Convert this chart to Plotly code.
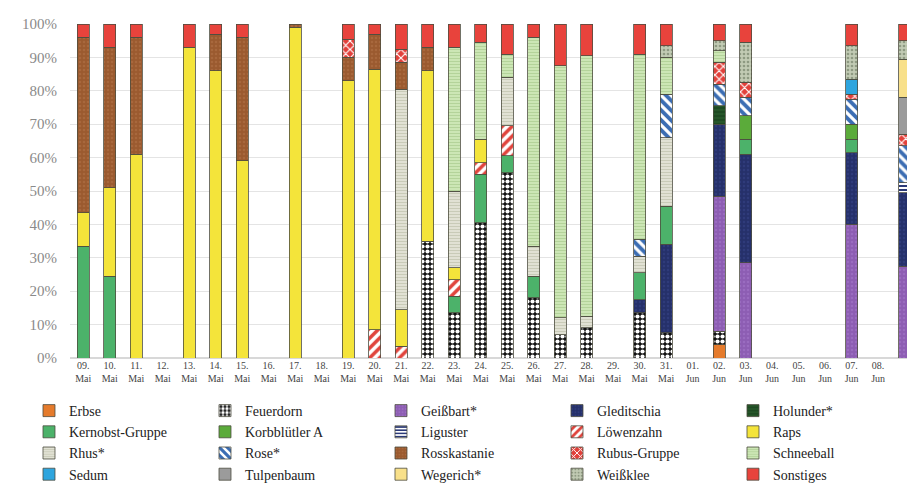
import plotly.graph_objects as go

# Sampling days (09. Mai – 09. Jun)
days = ["09.", "10.", "11.", "12.", "13.", "14.", "15.", "16.", "17.", "18.", "19.",
        "20.", "21.", "22.", "23.", "24.", "25.", "26.", "27.", "28.", "29.", "30.", "31.",
        "01.", "02.", "03.", "04.", "05.", "06.", "07.", "08.", "09."]
months = ["Mai"] * 23 + ["Jun"] * 9

# Pollen share per taxon in percent, keyed by day index
erbse = {24: 4}
feuerdorn = {13: 35, 14: 13.5, 15: 40.5, 16: 55.5, 17: 18, 18: 7, 19: 9, 21: 13.5, 22: 7.5, 24: 4}
geissbart = {24: 40.5, 25: 28.5, 29: 40, 31: 27.5}
gleditschia = {21: 4, 22: 26.5, 24: 21.5, 25: 32.5, 29: 21.5, 31: 22}
holunder = {24: 5.5}
kernobst = {0: 33.5, 1: 24.5, 14: 5, 15: 14.5, 16: 5, 17: 6.5, 21: 8, 22: 11.5, 25: 4.5, 29: 4}
korbbluetler = {25: 7, 29: 4.5}
liguster = {31: 3}
loewenzahn = {11: 8.5, 12: 3.5, 14: 5, 15: 3.5, 16: 9}
raps = {0: 10, 1: 26.5, 2: 61, 4: 93, 5: 86, 6: 59, 8: 99, 10: 83, 11: 78, 12: 11, 13: 51,
        14: 3.5, 15: 7}
rhus = {12: 66, 14: 23, 16: 14.5, 17: 9, 18: 5, 19: 3.5, 21: 5, 22: 20.5}
rose = {21: 5, 22: 13, 24: 6.5, 25: 5.5, 29: 7.5, 31: 11}
rosskastanie = {0: 52.5, 1: 42, 2: 35, 5: 11, 6: 37, 8: 1, 10: 7, 11: 10.5, 12: 8, 13: 7}
rubus = {10: 5.5, 12: 4, 24: 6.5, 25: 4.5, 29: 1.5, 31: 3.5}
schneeball = {14: 43, 15: 29, 16: 7, 17: 62.5, 18: 75.5, 19: 78, 21: 55.5, 22: 11, 24: 3.5}
sedum = {29: 4.5}
tulpenbaum = {31: 11}
wegerich = {31: 11.5}
weissklee = {22: 3.5, 24: 3, 25: 12, 29: 10, 31: 5.5}
sonstiges = {0: 4, 1: 7, 2: 4, 4: 7, 5: 3, 6: 4, 10: 4.5, 11: 3, 12: 7.5, 13: 7, 14: 7, 15: 5.5,
             16: 9, 17: 4, 18: 12.5, 19: 9.5, 21: 9, 22: 6.5, 24: 5, 25: 5.5, 29: 6.5, 31: 5}

# (name, values, background colour, pattern shape, pattern colour, pattern size, solidity)
series = [
    ("Erbse", erbse, "#e57b2c", "", None, 8, 0.3),
    ("Feuerdorn", feuerdorn, "#111111", ".", "#ffffff", 5, 0.55),
    ("Geißbart*", geissbart, "#8d5db3", ".", "#9a6cc0", 4, 0.3),
    ("Gleditschia", gleditschia, "#25306a", ".", "#2f3b7a", 4, 0.3),
    ("Holunder*", holunder, "#1e4a22", "-", "#2b5e2e", 4, 0.3),
    ("Kernobst-Gruppe", kernobst, "#4cb26a", "", None, 8, 0.3),
    ("Korbblütler A", korbbluetler, "#5bab3a", "", None, 8, 0.3),
    ("Liguster", liguster, "#ffffff", "-", "#2c3a78", 4, 0.5),
    ("Löwenzahn", loewenzahn, "#ffffff", "/", "#e0443c", 7, 0.5),
    ("Raps", raps, "#f4e43a", "", None, 8, 0.3),
    ("Rhus*", rhus, "#e6e6da", "-", "#c9cbb8", 3, 0.45),
    ("Rose*", rose, "#ffffff", "\\", "#3b6db3", 7, 0.55),
    ("Rosskastanie", rosskastanie, "#9b5a2f", ".", "#a8683d", 4, 0.3),
    ("Rubus-Gruppe", rubus, "#e2403a", "x", "#ffffff", 6, 0.35),
    ("Schneeball", schneeball, "#cfe8b8", "-", "#b4d39a", 3, 0.4),
    ("Sedum", sedum, "#2ea5de", "", None, 8, 0.3),
    ("Tulpenbaum", tulpenbaum, "#9b9b9b", "", None, 8, 0.3),
    ("Wegerich*", wegerich, "#f8e08a", "", None, 8, 0.3),
    ("Weißklee", weissklee, "#c2cbb4", ".", "#8e9a82", 4, 0.35),
    ("Sonstiges", sonstiges, "#e8433c", "", None, 8, 0.3),
]

x_idx = list(range(len(days)))
fig = go.Figure()
for name, vals, bg, shape, fg, size, sol in series:
    y = [vals.get(i) for i in x_idx]
    pattern = dict(shape=shape)
    if shape:
        pattern.update(fgcolor=fg, bgcolor=bg, size=size, solidity=sol, fillmode="replace")
    fig.add_trace(go.Bar(
        x=x_idx, y=y, name=name,
        marker=dict(color=bg, pattern=pattern, line=dict(color="#4d4d40", width=0.8)),
        width=0.45,
    ))

tick_text = [f"{d}<br>{m}" for d, m in zip(days, months)]

fig.update_layout(
    width=907, height=491,
    margin=dict(l=70, r=0, t=24, b=133, autoexpand=False),
    barmode="stack",
    plot_bgcolor="white", paper_bgcolor="white",
    font=dict(family="Liberation Serif", color="#222222"),
    xaxis=dict(
        tickmode="array", tickvals=x_idx, ticktext=tick_text,
        range=[-0.5, 31.09], showgrid=False, zeroline=False, showline=False,
        ticks="", tickangle=0,
        tickfont=dict(family="Liberation Serif", size=10, color="#444444"),
    ),
    yaxis=dict(
        range=[0, 100], dtick=10, ticksuffix="%", showgrid=True,
        gridcolor="#e4e4e4", gridwidth=1, zeroline=True, zerolinecolor="#d8d8d8",
        ticklabelstandoff=12,
        tickfont=dict(family="Liberation Serif", size=15, color="#8a8a8a"),
    ),
    legend=dict(
        orientation="h", x=-0.049, xanchor="left", y=-0.1108, yanchor="top",
        traceorder="normal", entrywidth=131, entrywidthmode="pixels",
        itemwidth=30, tracegroupgap=0,
        font=dict(family="Liberation Serif", size=14, color="#222222"),
        bgcolor="rgba(0,0,0,0)",
    ),
)

fig.write_html("out.html")
